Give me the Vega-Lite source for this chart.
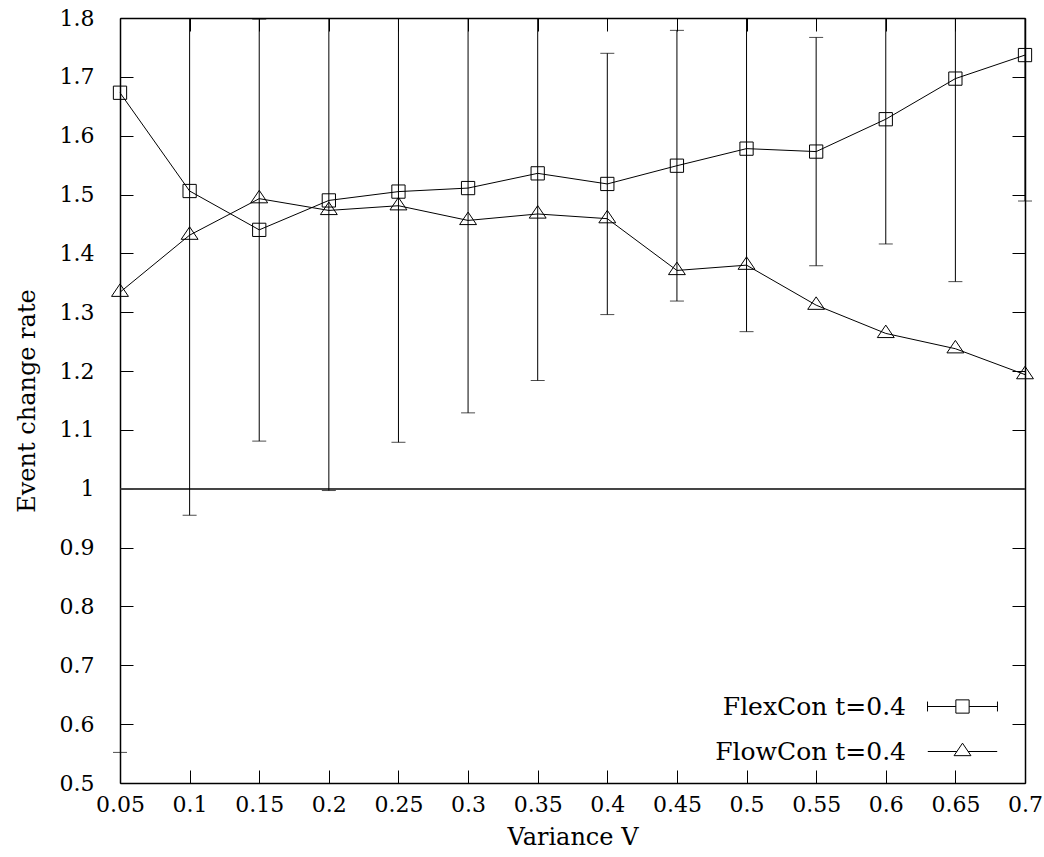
{
  "$schema": "https://vega.github.io/schema/vega-lite/v6.json",
  "width": 905,
  "height": 765,
  "autosize": {"type": "none"},
  "padding": {"left": 120, "top": 18, "right": 19, "bottom": 74},
  "background": "white",
  "config": {
    "font": "DejaVu Serif",
    "view": {"stroke": null},
    "axis": {
      "domainColor": "black",
      "domainWidth": 1.5,
      "tickColor": "black",
      "tickWidth": 1,
      "tickSize": -13,
      "labelFont": "DejaVu Serif",
      "labelFontSize": 22,
      "labelColor": "black",
      "titleFont": "DejaVu Serif",
      "titleFontSize": 24,
      "titleFontWeight": "normal",
      "titleColor": "black",
      "grid": false
    },
    "legend": {
      "labelFont": "DejaVu Serif",
      "labelFontSize": 25,
      "labelColor": "black",
      "labelLimit": 0,
      "padding": 0
    }
  },
  "datasets": {
    "d": [
      {"v": 0.05, "flex": 1.673, "lo": 0.552, "hi": 2.794, "flow": 1.334},
      {"v": 0.1, "flex": 1.506, "lo": 0.955, "hi": 2.057, "flow": 1.431},
      {"v": 0.15, "flex": 1.44, "lo": 1.081, "hi": 1.798, "flow": 1.493},
      {"v": 0.2, "flex": 1.49, "lo": 0.997, "hi": 1.983, "flow": 1.473},
      {"v": 0.25, "flex": 1.505, "lo": 1.079, "hi": 1.931, "flow": 1.481},
      {"v": 0.3, "flex": 1.511, "lo": 1.129, "hi": 1.893, "flow": 1.456},
      {"v": 0.35, "flex": 1.536, "lo": 1.184, "hi": 1.888, "flow": 1.467},
      {"v": 0.4, "flex": 1.518, "lo": 1.296, "hi": 1.74, "flow": 1.459},
      {"v": 0.45, "flex": 1.549, "lo": 1.319, "hi": 1.779, "flow": 1.371},
      {"v": 0.5, "flex": 1.578, "lo": 1.267, "hi": 1.889, "flow": 1.38},
      {"v": 0.55, "flex": 1.573, "lo": 1.379, "hi": 1.767, "flow": 1.312},
      {"v": 0.6, "flex": 1.628, "lo": 1.416, "hi": 1.84, "flow": 1.264},
      {"v": 0.65, "flex": 1.697, "lo": 1.352, "hi": 2.042, "flow": 1.238},
      {"v": 0.7, "flex": 1.737, "lo": 1.489, "hi": 1.985, "flow": 1.194}
    ]
  },
  "data": {"name": "d"},
  "layer": [
    {
      "mark": {"type": "rule", "color": "#444444", "strokeWidth": 1.2},
      "encoding": {
        "y": {"datum": 1, "type": "quantitative", "axis": null, "scale": {"domain": [0.5, 1.8], "nice": false, "zero": false}}
      }
    },
    {
      "mark": {"type": "rule", "color": "black", "strokeWidth": 1, "clip": true},
      "encoding": {
        "x": {"field": "v", "type": "quantitative", "axis": null},
        "y": {"field": "lo", "type": "quantitative", "axis": null},
        "y2": {"field": "hi"}
      }
    },
    {
      "mark": {"type": "tick", "orient": "horizontal", "size": 14, "thickness": 1, "color": "black"},
      "encoding": {
        "x": {"field": "v", "type": "quantitative", "axis": null},
        "y": {"field": "lo", "type": "quantitative", "axis": null}
      }
    },
    {
      "transform": [{"filter": "datum.hi <= 1.8"}],
      "mark": {"type": "tick", "orient": "horizontal", "size": 14, "thickness": 1, "color": "black"},
      "encoding": {
        "x": {"field": "v", "type": "quantitative", "axis": null},
        "y": {"field": "hi", "type": "quantitative", "axis": null}
      }
    },
    {
      "mark": {"type": "line", "color": "black", "strokeWidth": 1},
      "encoding": {
        "x": {
          "field": "v", "type": "quantitative",
          "scale": {"domain": [0.05, 0.7], "nice": false, "zero": false},
          "axis": {"orient": "bottom", "title": "Variance V", "values": [0.05, 0.1, 0.15, 0.2, 0.25, 0.3, 0.35, 0.4, 0.45, 0.5, 0.55, 0.6, 0.65, 0.7], "format": "~g", "labelFont": "DejaVu Serif", "labelFontSize": 22, "labelPadding": 24, "titleFontSize": 24, "titlePadding": 10, "labelFlush": false, "labelOverlap": false}
        },
        "y": {
          "field": "flex", "type": "quantitative",
          "scale": {"domain": [0.5, 1.8], "nice": false, "zero": false},
          "axis": {"orient": "left", "title": "Event change rate", "values": [0.5, 0.6, 0.7, 0.8, 0.9, 1, 1.1, 1.2, 1.3, 1.4, 1.5, 1.6, 1.7, 1.8], "format": "~g", "labelFont": "DejaVu Serif", "labelFontSize": 22, "labelPadding": 39, "titleFontSize": 24, "titlePadding": 20, "labelFlush": false, "labelOverlap": false}
        }
      }
    },
    {
      "mark": {"type": "line", "color": "black", "strokeWidth": 1},
      "encoding": {
        "x": {
          "field": "v", "type": "quantitative",
          "axis": {"orient": "top", "title": null, "labels": false, "values": [0.05, 0.1, 0.15, 0.2, 0.25, 0.3, 0.35, 0.4, 0.45, 0.5, 0.55, 0.6, 0.65, 0.7]}
        },
        "y": {
          "field": "flow", "type": "quantitative",
          "axis": {"orient": "right", "title": null, "labels": false, "values": [0.5, 0.6, 0.7, 0.8, 0.9, 1, 1.1, 1.2, 1.3, 1.4, 1.5, 1.6, 1.7, 1.8]}
        }
      }
    },
    {
      "mark": {"type": "point", "shape": "M-0.51,-0.51H0.51V0.51H-0.51Z", "size": 676, "filled": false, "color": "black", "strokeWidth": 1, "opacity": 1},
      "encoding": {
        "x": {"field": "v", "type": "quantitative", "axis": null},
        "y": {"field": "flex", "type": "quantitative", "axis": null}
      }
    },
    {
      "mark": {"type": "point", "shape": "M0,-0.64L0.65,0.32L-0.65,0.32Z", "size": 676, "filled": false, "color": "black", "strokeWidth": 1, "opacity": 1},
      "encoding": {
        "x": {"field": "v", "type": "quantitative", "axis": null},
        "y": {"field": "flow", "type": "quantitative", "axis": null}
      }
    },
    {
      "transform": [{"filter": "false"}],
      "mark": {"type": "point", "size": 676, "filled": false, "color": "black", "strokeWidth": 1, "opacity": 1},
      "encoding": {
        "shape": {
          "field": "series", "type": "nominal",
          "scale": {
            "domain": ["FlexCon t=0.4", "FlowCon t=0.4"],
            "range": [
              "M-2.69,0H-0.51M0.51,0H2.69M-2.69,-0.38V0.38M2.69,-0.38V0.38M-0.51,-0.51H0.51V0.51H-0.51Z",
              "M-2.67,0H-0.43M0.43,0H2.67M0,-0.64L0.65,0.32L-0.65,0.32Z"
            ]
          },
          "legend": {
            "title": null,
            "orient": "none",
            "legendX": 829,
            "legendY": 675,
            "symbolSize": 676,
            "symbolStrokeWidth": 1,
            "symbolStrokeColor": "black",
            "symbolFillColor": "white",
            "labelAlign": "right",
            "labelOffset": -70,
            "labelLimit": 0,
            "labelFontSize": 25,
            "rowPadding": 18
          }
        }
      }
    }
  ],
  "resolve": {"axis": {"x": "independent", "y": "independent"}}
}
